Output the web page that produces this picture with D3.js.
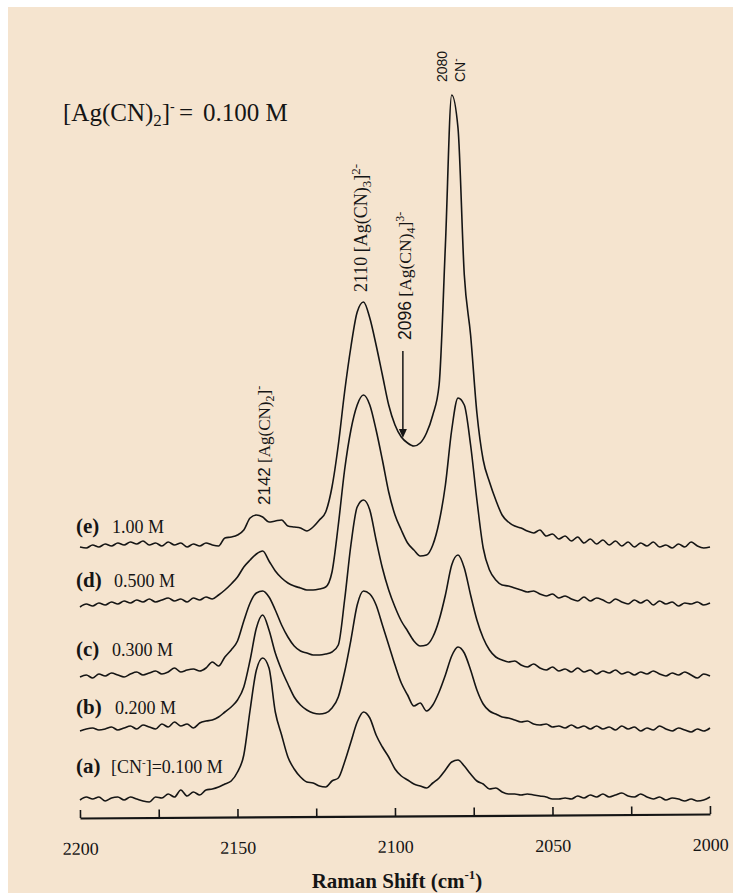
<!DOCTYPE html>
<html><head><meta charset="utf-8">
<script src="https://cdn.jsdelivr.net/npm/d3@7"></script>
<style>body{margin:0;background:#fff}svg{display:block}</style>
</head><body><svg id="chart" width="733" height="893"></svg>
<script>
// ---- data (Raman intensity, arbitrary units, stacked spectra) ----
const wavenumbers = d3.range(2200, 1999, -2);   // cm-1 sampling grid
const xTickValues = [2200, 2175, 2150, 2125, 2100, 2075, 2050, 2025, 2000];
const xTickLabels = [2200, 2150, 2100, 2050, 2000];
const seriesKeys = ["a", "b", "c", "d", "e"];
const seriesConc = ["0.100 M", "0.200 M", "0.300 M", "0.500 M", "1.00 M"];

const intensityA = [
  16,19,17,19,15,18,19,16,19,17,
  15,14,19,18,22,19,26,20,24,21,
  26,27,29,32,35,44,61,106,146,158,
  148,104,81,59,47,39,34,33,30,29,
  35,38,54,74,94,104,98,81,69,59,
  47,40,36,32,30,28,33,38,46,54,
  56,50,42,35,32,27,28,24,22,22,
  21,22,21,20,19,17,17,18,17,20,
  18,21,19,22,19,21,23,20,19,22,
  19,17,19,16,18,17,15,17,15,16,
  19];
const intensityB = [
  85,87,88,86,87,89,86,88,90,87,
  91,89,87,92,89,94,90,92,88,93,
  95,96,99,104,109,116,129,156,188,201,
  186,163,146,132,119,111,106,103,102,103,
  108,119,144,176,211,225,222,211,191,171,
  151,133,121,110,113,105,111,124,141,160,
  169,163,146,126,112,105,102,99,98,96,
  94,95,92,91,92,89,90,88,91,88,
  90,87,90,87,89,86,90,87,89,85,
  88,86,90,87,85,88,86,84,87,85,
  88];
const intensityC = [
  139,141,138,142,140,143,141,139,142,144,
  141,143,145,142,144,148,144,146,147,145,
  148,154,150,159,166,175,195,213,223,225,
  219,206,191,179,170,165,163,161,161,162,
  164,171,216,271,309,316,306,276,248,226,
  209,195,185,175,170,171,179,196,221,251,
  261,248,221,196,178,166,159,156,154,155,
  151,149,152,148,146,149,145,147,144,148,
  144,146,142,145,143,146,142,144,141,144,
  142,145,142,140,143,141,144,141,138,142,
  140];
const intensityD = [
  209,212,210,213,211,214,212,215,213,216,
  214,217,214,216,218,215,217,214,218,216,
  219,217,221,226,232,239,249,256,262,265,
  255,245,238,233,230,228,226,226,227,229,
  244,291,346,386,411,421,411,386,356,324,
  301,286,273,266,260,261,271,294,331,386,
  418,411,371,316,268,246,236,231,230,228,
  226,224,225,222,220,222,218,220,217,215,
  219,215,218,216,213,217,214,212,216,213,
  216,211,215,212,214,210,213,212,214,211,
  213];
const intensityE = [
  269,268,271,269,272,270,273,271,274,272,
  275,271,273,270,274,271,273,269,272,270,
  273,271,270,278,279,281,286,298,301,299,
  294,295,296,290,289,288,285,289,296,304,
  329,371,424,469,504,514,498,471,441,411,
  391,379,373,370,373,383,401,431,571,721,
  688,541,481,403,356,334,316,301,294,290,
  288,285,283,286,280,282,277,280,275,279,
  273,277,272,276,271,275,270,274,269,273,
  270,274,269,271,268,272,269,274,270,268,
  269];
const allSeries = [intensityA, intensityB, intensityC, intensityD, intensityE];

// ---- drawing ----
const svg = d3.select("#chart");
const W = 733, H = 893;
const AX_Y = 816;
svg.append("rect").attr("width", W).attr("height", H).attr("fill", "#ffffff");
svg.append("rect").attr("x", 8).attr("y", 7).attr("width", W - 8).attr("height", H - 7).attr("fill", "#f5e4cf");

const x = d3.scaleLinear().domain([2200, 2000]).range([80, 710]);
const y = d3.scaleLinear().domain([0, AX_Y]).range([AX_Y, 0]);
const ink = "#151515";
const serif = "'Liberation Serif','Times New Roman',serif";
const sans = "'Liberation Sans',Arial,sans-serif";

const line = d3.line()
  .x((d, i) => x(wavenumbers[i]))
  .y(d => y(d))
  .curve(d3.curveMonotoneX);

svg.append("g").selectAll("path").data(allSeries).join("path")
  .attr("d", line)
  .attr("fill", "none")
  .attr("stroke", ink)
  .attr("stroke-width", 1.6)
  .attr("stroke-linejoin", "round");

// axis
const axis = d3.axisBottom(x)
  .tickValues(xTickValues)
  .tickSizeInner(-8)
  .tickSizeOuter(0)
  .tickPadding(24)
  .tickFormat(d => xTickLabels.includes(d) ? String(d) : "");
const gx = svg.append("g")
  .attr("transform", `translate(0,${AX_Y}) rotate(-0.36,395,0)`)
  .call(axis);
gx.select(".domain").attr("stroke", ink).attr("stroke-width", 2.2);
gx.selectAll(".tick line").attr("stroke", ink).attr("stroke-width", 1.6);
gx.selectAll(".tick text").attr("fill", ink).attr("font-family", serif).attr("font-size", 18);

// axis title
const title = svg.append("text").attr("x", 397).attr("y", 888).attr("text-anchor", "middle")
  .attr("font-family", serif).attr("font-size", 21).attr("font-weight", "bold").attr("fill", ink);
title.append("tspan").text("Raman Shift (cm");
title.append("tspan").attr("font-size", 13).attr("dy", -9).text("-1");
title.append("tspan").attr("dy", 9).text(")");

// header
const hdr = svg.append("text").attr("x", 63).attr("y", 121)
  .attr("font-family", serif).attr("font-size", 25).attr("fill", ink);
hdr.append("tspan").text("[Ag(CN)");
hdr.append("tspan").attr("font-size", 17).attr("dy", 5).text("2");
hdr.append("tspan").attr("dy", -5).text("]");
hdr.append("tspan").attr("font-size", 14).attr("dy", -10).text("-");
const hdrEq = svg.append("text").attr("x", 179).attr("y", 121)
  .attr("font-family", serif).attr("font-size", 25).attr("fill", ink).text("=");
const hdrVal = svg.append("text").attr("x", 203).attr("y", 121)
  .attr("font-family", serif).attr("font-size", 25).attr("fill", ink).text("0.100 M");

// trace labels
const labelBase = [773, 714, 656, 587, 533];
const labelTextX = [111, 115, 112, 114, 112];
seriesKeys.forEach((k, i) => {
  svg.append("text").attr("x", 76).attr("y", labelBase[i])
    .attr("font-family", serif).attr("font-size", 21).attr("font-weight", "bold").attr("fill", ink)
    .text(`(${k})`);
  const t = svg.append("text").attr("x", labelTextX[i]).attr("y", labelBase[i])
    .attr("font-family", serif).attr("font-size", 18).attr("fill", ink);
  if (i === 0) {
    t.append("tspan").text("[CN");
    t.append("tspan").attr("font-size", 11).attr("dy", -7).text("-");
    t.append("tspan").attr("dy", 7).text("]=" + seriesConc[i]);
  } else {
    t.text(seriesConc[i]);
  }
});

// rotated peak labels
function rotLabel(px, py, parts, size) {
  const t = svg.append("text").attr("transform", `translate(${px},${py}) rotate(-90)`)
    .attr("fill", ink).attr("font-size", size || 17);
  parts.forEach(p => {
    const s = t.append("tspan").text(p.t).attr("font-family", p.f || serif);
    if (p.s) s.attr("font-size", p.s);
    if (p.dy) s.attr("dy", p.dy);
  });
  return t;
}
rotLabel(270, 505, [
  {t: "2142", f: sans}, {t: " [Ag(CN)"}, {t: "2", s: 12, dy: 4}, {t: "]", dy: -4}, {t: "-", s: 12, dy: -7}
]);
rotLabel(367, 292, [
  {t: "2110"}, {t: " [Ag(CN)"}, {t: "3", s: 13, dy: 4}, {t: "]", dy: -4}, {t: "2-", s: 13, dy: -7}
], 18);
rotLabel(411, 340, [
  {t: "2096", f: sans}, {t: " [Ag(CN)"}, {t: "4", s: 12, dy: 4}, {t: "]", dy: -4}, {t: "3-", s: 12, dy: -7}
], 17.5);
rotLabel(447, 82, [{t: "2080", f: sans, s: 14}]);
rotLabel(465, 82, [{t: "CN", f: sans, s: 14}, {t: "-", f: sans, s: 10, dy: -6}]);

// arrow to 2096 shoulder
const ax = x(2097.5);
svg.append("line").attr("x1", ax).attr("x2", ax).attr("y1", 351).attr("y2", 431)
  .attr("stroke", ink).attr("stroke-width", 1.5);
svg.append("path").attr("d", `M${ax-4},429L${ax+4},429L${ax},438Z`).attr("fill", ink);
</script></body></html>
